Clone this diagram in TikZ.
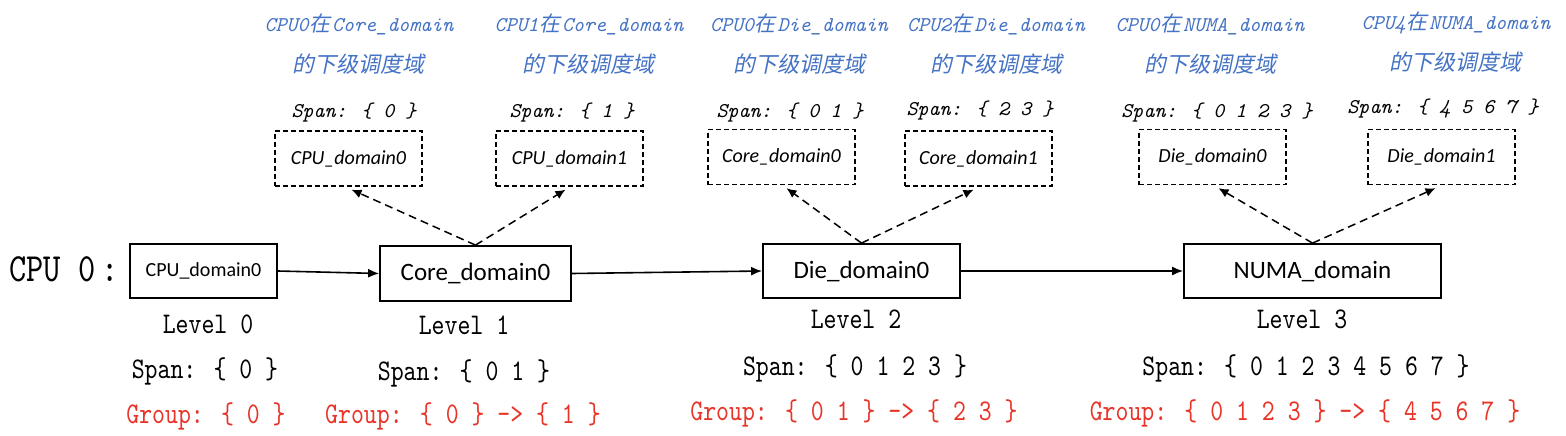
\documentclass[tikz,border=0pt]{standalone}
\usepackage{fontspec}
\usetikzlibrary{arrows.meta}
\setsansfont{Carlito}
\newfontfamily\monoN[Extension=.otf, FakeStretch=0.82]{lmmono10-regular}
\newfontfamily\monoI[Extension=.otf]{lmmono10-italic}
\newfontfamily\cjk[FakeSlant=0.2]{Noto Sans CJK SC}
\newcommand{\zai}{\kern0.5pt{\cjk 在}\kern2pt}
\definecolor{bluetxt}{RGB}{68,114,196}
\definecolor{redtxt}{RGB}{232,52,40}
\tikzset{
  solidbox/.style={draw, line width=1.8pt, minimum height=54pt, inner sep=0pt, font=\sffamily\fontsize{25}{25}\selectfont},
  dbox/.style={draw, dash pattern=on 5pt off 3pt, line width=1.4pt, minimum width=147pt, minimum height=55pt, inner sep=0pt, font=\sffamily\itshape\fontsize{20}{20}\selectfont},
  lvl/.style={anchor=base, inner sep=0pt, font=\monoN\fontsize{30}{30}\selectfont},
  grp/.style={lvl, text=redtxt},
  topline/.style={anchor=base, inner sep=0pt, text=bluetxt, font=\monoI\fontsize{21}{21}\selectfont},
  topspan/.style={anchor=base, inner sep=0pt, font=\monoI\fontsize{21}{21}\selectfont},
  cjkline/.style={inner sep=0pt, text=bluetxt, font=\cjk\fontsize{22}{22}\selectfont},
  arr/.style={line width=1.6pt, -{Latex[length=11pt,width=9pt]}},
  darr/.style={line width=1.5pt, dash pattern=on 8pt off 5pt, -{Latex[length=10pt,width=9pt]}}
}
\begin{document}
\begin{tikzpicture}[x=1pt,y=-1pt]
\useasboundingbox (0,0) rectangle (1566,436);

% main row
\node[lvl, font=\monoN\fontsize{40}{40}\selectfont] (cpu0lbl) at (64,281) {CPU 0\hspace{6pt}:};
\node[solidbox, minimum width=147pt, font=\sffamily\fontsize{20}{20}\selectfont] (cpu) at (203.5,271) {CPU\_domain0};
\node[solidbox, minimum width=191pt, minimum height=55pt] (core) at (475.5,273.5) {Core\_domain0};
\node[solidbox, minimum width=197pt] (die) at (861.5,271) {Die\_domain0};
\node[solidbox, minimum width=257pt] (numa) at (1312.5,271) {NUMA\_domain};

\draw[arr] (cpu.east) -- (core.west);
\draw[arr] (core.east) -- (die.west);
\draw[arr] (die.east) -- (numa.west);

% lower domains
\node[dbox] (d1) at (348.5,158.5) {CPU\_domain0};
\node[dbox] (d2) at (569.5,158.5) {CPU\_domain1};
\node[dbox] (d3) at (781.5,157) {Core\_domain0};
\node[dbox] (d4) at (978.5,158.5) {Core\_domain1};
\node[dbox] (d5) at (1212.5,157) {Die\_domain0};
\node[dbox] (d6) at (1441.5,157) {Die\_domain1};

\draw[darr] (core.north) -- ([xshift=3pt,yshift=-3pt]d1.south);
\draw[darr] (core.north) -- ([xshift=-4pt,yshift=-3pt]d2.south);
\draw[darr] (die.north) -- ([xshift=5pt,yshift=-3pt]d3.south);
\draw[darr] (die.north) -- ([xshift=-5pt,yshift=-3pt]d4.south);
\draw[darr] (numa.north) -- ([xshift=6pt,yshift=-3pt]d5.south);
\draw[darr] (numa.north) -- ([xshift=-6pt,yshift=-3pt]d6.south);

% top annotations
\node[topline] (t1a) at (359,32) {CPU0\zai Core\_domain};
\node[cjkline] (t1b) at (358,64) {的下级调度域};
\node[topspan] (t1c) at (354,117) {Span: \{ 0 \}};

\node[topline] (t2a) at (589,32) {CPU1\zai Core\_domain};
\node[cjkline] (t2b) at (588,64) {的下级调度域};
\node[topspan] (t2c) at (572,117) {Span: \{ 1 \}};

\node[topline] (t3a) at (799,32) {CPU0\zai Die\_domain};
\node[cjkline] (t3b) at (799,64) {的下级调度域};
\node[topspan] (t3c) at (790,117) {Span: \{ 0 1 \}};

\node[topline] (t4a) at (996,32) {CPU2\zai Die\_domain};
\node[cjkline] (t4b) at (996,64) {的下级调度域};
\node[topspan] (t4c) at (980,115) {Span: \{ 2 3 \}};

\node[topline] (t5a) at (1210,32) {CPU0\zai NUMA\_domain};
\node[cjkline] (t5b) at (1210,64) {的下级调度域};
\node[topspan] (t5c) at (1217,117) {Span: \{ 0 1 2 3 \}};

\node[topline] (t6a) at (1456,30) {CPU4\zai NUMA\_domain};
\node[cjkline] (t6b) at (1455,62) {的下级调度域};
\node[topspan] (t6c) at (1443,113) {Span: \{ 4 5 6 7 \}};

% bottom labels
\node[lvl] (l0) at (208,333) {Level 0};
\node[lvl] (s0) at (205,378) {Span: \{ 0 \}};
\node[grp] (g0) at (206,423) {Group: \{ 0 \}};

\node[lvl] (l1) at (464,334) {Level 1};
\node[lvl] (s1) at (464,380) {Span: \{ 0 1 \}};
\node[grp] (g1) at (463,423) {Group: \{ 0 \} -> \{ 1 \}};

\node[lvl] (l2) at (856,328) {Level 2};
\node[lvl] (s2) at (855,375) {Span: \{ 0 1 2 3 \}};
\node[grp] (g2) at (854,420) {Group: \{ 0 1 \} -> \{ 2 3 \}};

\node[lvl] (l3) at (1302,328) {Level 3};
\node[lvl] (s3) at (1306,375) {Span: \{ 0 1 2 3 4 5 6 7 \}};
\node[grp] (g3) at (1305,420) {Group: \{ 0 1 2 3 \} -> \{ 4 5 6 7 \}};
\end{tikzpicture}
\end{document}
